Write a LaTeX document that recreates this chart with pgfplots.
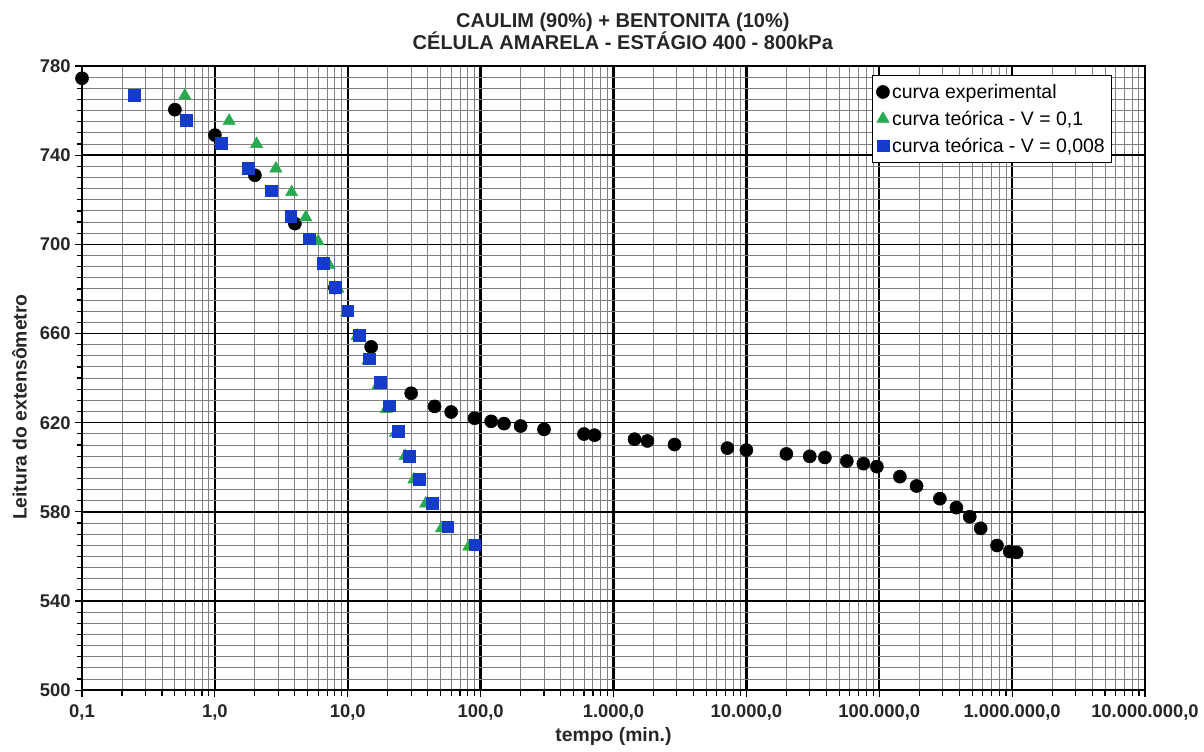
\documentclass[border=0pt]{standalone}
\usepackage{fontspec}
\setmainfont{Liberation Sans}
\usepackage{pgfplots}
\pgfplotsset{compat=1.18}
\definecolor{tgreen}{RGB}{40,170,80}
\definecolor{sblue}{RGB}{20,60,200}
\begin{document}
\begin{tikzpicture}
\begin{axis}[
  scale only axis, width=797pt, height=468pt,
  xmode=log, log basis x=10,
  xmin=0.1, xmax=1e7, ymin=500, ymax=780,
  xtick={0.1,1,10,100,1000,10000,100000,1000000,10000000},
  xticklabels={{0,1},{1,0},{10,0},{100,0},{1.000,0},{10.000,0},{100.000,0},{1.000.000,0},{10.000.000,0}},
  minor xtick={0.2,0.3,0.4,0.5,0.6,0.7,0.8,0.9,
    2,3,4,5,6,7,8,9,20,30,40,50,60,70,80,90,
    200,300,400,500,600,700,800,900,
    2000,3000,4000,5000,6000,7000,8000,9000,
    20000,30000,40000,50000,60000,70000,80000,90000,
    200000,300000,400000,500000,600000,700000,800000,900000,
    2000000,3000000,4000000,5000000,6000000,7000000,8000000,9000000},
  ytick={500,540,580,620,660,700,740,780},
  yticklabels={500,540,580,620,660,700,740,780},
  minor ytick={505,510,...,775},
  grid=both,
  major x grid style={black, line width=1.8pt},
  major y grid style={black, line width=1.2pt},
  minor grid style={black!50, line width=0.7pt},
  axis line style={black, line width=1.1pt},
  tick align=outside, tick pos=left,
  major tick length=5pt, minor tick length=4pt,
  every tick/.style={black, line width=0.9pt},
  ticklabel style={font=\bfseries\fontsize{13.8}{15}\selectfont, text=black!85},
  xticklabel style={yshift=-2pt},
  xlabel={\textbf{tempo (min.)}},
  ylabel={\textbf{Leitura do extensômetro}},
  label style={font=\bfseries\fontsize{14.5}{16}\selectfont, text=black!85},
  xlabel style={yshift=1pt},
  ylabel style={at={(ticklabel cs:0.4535,3pt)}},
  title={CAULIM (90\%) + BENTONITA (10\%)\\CÉLULA AMARELA - ESTÁGIO 400 - 800kPa},
  title style={align=center, font=\bfseries\fontsize{15}{16.5}\selectfont, text=black!85, xshift=7pt, yshift=3pt},
  legend style={at={(0.969,0.985)}, anchor=north east, draw=black, line width=0.8pt, fill=white,
    font=\fontsize{14.6}{16}\selectfont, row sep=4pt, inner xsep=3pt, inner ysep=4pt,
    /tikz/every even column/.append style={column sep=1pt}},
  legend cell align=left,
  legend image post style={line width=0.4pt},
]
\addplot[only marks, mark=*, mark size=4.9pt, black] table {
x y
0.1 774.5
0.5 760.4
1 749
2 731
4 709.3
8 680.6
15 654
30 633.2
45 627.3
60 624.8
90 622
120 620.6
150 619.6
200 618.5
300 617
600 614.9
720 614.4
1440 612.6
1800 611.8
2880 610.2
7200 608.6
10000 607.7
20000 606
30000 604.9
39000 604.4
57000 602.8
76000 601.6
96000 600.3
143000 595.8
191000 591.6
286000 585.9
381000 581.9
480000 577.8
580000 572.6
770000 564.9
960000 562.2
1080000 561.8
};
\addlegendentry{curva experimental}
\addplot[only marks, mark=triangle*, mark size=5.3pt, tgreen] table {
x y
0.594 766.7
1.28 755.4
2.06 745
2.88 734
3.78 723.4
4.83 712.1
5.98 701.3
7.23 690.7
8.45 680
9.8 669.5
11.8 659
14.2 647.9
16.9 636.9
19.5 626.1
22.9 615.5
27 605
31.5 594.5
38.6 583.7
50.8 572.6
81.5 564.4
};
\addlegendentry{curva teórica - V = 0,1}
\addplot[only marks, mark=square*, mark size=4.4pt, sblue] table {
x y
0.247 766.9
0.61 755.8
1.11 745.3
1.78 734.1
2.65 724
3.72 712.6
5.1 702.5
6.5 691.5
8.03 680.6
10.0 670.2
12.2 659.2
14.5 648.7
17.5 638.2
20.4 627.6
24 616.1
28.9 605
34.5 594.7
43.2 583.7
56.5 573.3
90.4 565.2
};
\addlegendentry{curva teórica - V = 0,008}
\coordinate (sw) at (rel axis cs:0,0);
\coordinate (ne) at (rel axis cs:1,1);
\end{axis}
\pgfresetboundingbox
\path[use as bounding box] ([xshift=-61.5pt,yshift=-45.75pt]sw) rectangle ([xshift=44.25pt,yshift=49.5pt]ne);
\end{tikzpicture}
\end{document}
